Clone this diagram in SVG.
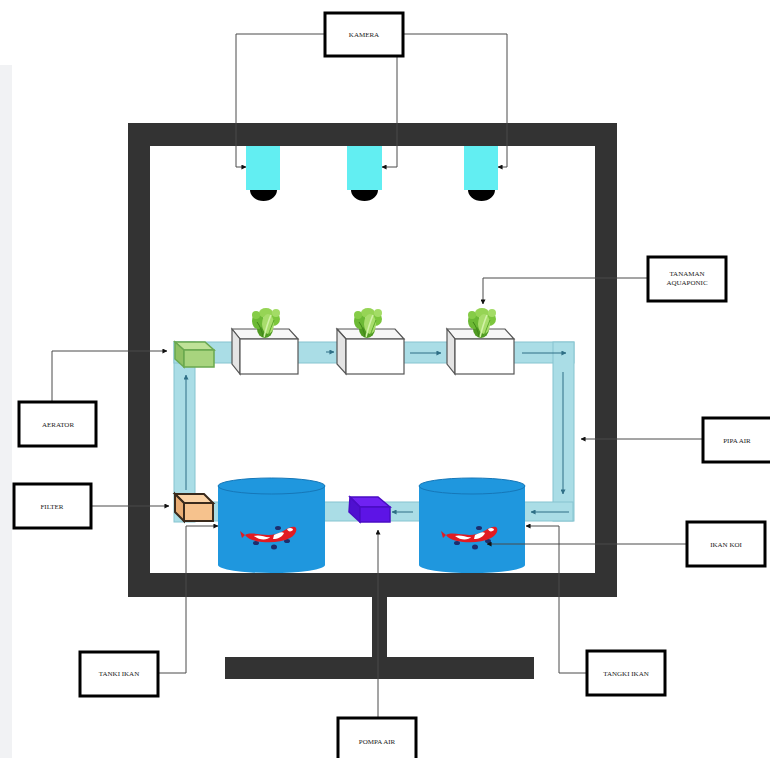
<svg xmlns="http://www.w3.org/2000/svg" width="770" height="758" viewBox="0 0 770 758">
  <defs>
    <style>
      .frame { fill: #333333; }
      .label { fill: #ffffff; stroke: #000000; stroke-width: 3; }
      .txt { font-family: "Liberation Serif", "Times New Roman", serif; font-size: 7px; fill: #222222; text-anchor: middle; }
      .conn { fill: none; stroke: #4a4a4a; stroke-width: 1; }
      .pipe { fill: #aadde6; stroke: #86c4d0; stroke-width: 1; }
      .flow { fill: none; stroke: #2f6f86; stroke-width: 1; }
      .cam { fill: #62eef2; }
      .dome { fill: #000000; }
      .box-front { fill: #ffffff; stroke: #555555; stroke-width: 1.2; }
      .box-side { fill: #e4e4e4; stroke: #555555; stroke-width: 1.2; }
      .box-top { fill: #f7f7f7; stroke: #555555; stroke-width: 1.2; }
      .tank { fill: #1f97de; }
      .tank-top { fill: #1f97de; stroke: #1677b8; stroke-width: 1; }
    </style>
    <marker id="arr" viewBox="0 0 6 6" refX="5.5" refY="3" markerWidth="5" markerHeight="5" markerUnits="userSpaceOnUse" orient="auto">
      <path d="M0,0 L6,3 L0,6 z" fill="#111111"/>
    </marker>
    <marker id="flowArr" viewBox="0 0 6 6" refX="5.5" refY="3" markerWidth="5" markerHeight="5" markerUnits="userSpaceOnUse" orient="auto">
      <path d="M0,0 L6,3 L0,6 z" fill="#2f6f86"/>
    </marker>
    <!-- lettuce head, origin at the centre of the plant -->
    <g id="lettuce">
      <ellipse cx="-1" cy="7" rx="8" ry="9" fill="#4f9a22"/>
      <ellipse cx="-8" cy="-1" rx="6" ry="8" fill="#6cb935"/>
      <ellipse cx="7" cy="-3" rx="7" ry="7" fill="#7cc63d"/>
      <ellipse cx="0" cy="-9" rx="7" ry="5" fill="#96d455"/>
      <ellipse cx="-10" cy="-7" rx="4" ry="4" fill="#86cc48"/>
      <ellipse cx="10" cy="-9" rx="4" ry="4" fill="#a3dc66"/>
      <ellipse cx="2" cy="2" rx="6" ry="10" fill="#a8dd6c"/>
      <path d="M-2,15 C0,7 2,0 5,-7" stroke="#d2f2a8" stroke-width="1.6" fill="none"/>
      <path d="M-9,0 C-6,4 -4,9 -3,15" stroke="#3f8418" stroke-width="1" fill="none"/>
      <path d="M8,-2 C6,3 4,8 2,14" stroke="#5aa82a" stroke-width="1" fill="none"/>
    </g>
    <!-- koi fish -->
    <g id="koi">
      <ellipse cx="-14" cy="10" rx="3" ry="2" fill="#1d2e6e"/>
      <ellipse cx="4" cy="14" rx="3" ry="2.5" fill="#1d2e6e"/>
      <ellipse cx="17" cy="8" rx="3" ry="2" fill="#1d2e6e"/>
      <ellipse cx="8" cy="-5" rx="3" ry="2" fill="#1d2e6e"/>
      <path d="M-25,2 C-18,-2 -6,4 6,1 C14,-1 20,-8 25,-6 C28,-4 26,2 20,5 C12,9 2,10 -8,9 C-16,8 -22,6 -25,2 z" fill="#e11b22"/>
      <path d="M-16,3 C-10,1 -4,5 0,4 C-2,7 -10,8 -16,3 z" fill="#ffffff"/>
      <path d="M4,2 C8,0 12,-2 14,0 C12,4 8,6 3,6 z" fill="#ffffff"/>
      <path d="M17,-4 C20,-6 23,-5 23,-3 C21,-1 18,-1 17,-4 z" fill="#ffffff"/>
      <path d="M-25,2 L-30,-2 L-28,5 z" fill="#e11b22"/>
    </g>
  </defs>

  <rect width="770" height="758" fill="#ffffff"/>
  <rect x="0" y="65" width="12" height="693" fill="#f1f2f4"/>

  <!-- cabinet frame and stand -->
  <g id="frame">
    <rect class="frame" x="128" y="123" width="489" height="23"/>
    <rect class="frame" x="128" y="123" width="22" height="474"/>
    <rect class="frame" x="595" y="123" width="22" height="474"/>
    <rect class="frame" x="128" y="573" width="489" height="24"/>
    <rect class="frame" x="372" y="597" width="15" height="62"/>
    <rect class="frame" x="225" y="657" width="309" height="22"/>
  </g>

  <!-- water pipes -->
  <g id="pipes">
    <rect class="pipe" x="174" y="342" width="21" height="180"/>
    <rect class="pipe" x="174" y="342" width="400" height="21"/>
    <rect class="pipe" x="553" y="342" width="21" height="179"/>
    <rect class="pipe" x="186" y="502" width="387" height="19"/>
    <line class="flow" x1="186" y1="490" x2="186" y2="375" marker-end="url(#flowArr)"/>
    <line class="flow" x1="326" y1="352" x2="334" y2="352" marker-end="url(#flowArr)"/>
    <line class="flow" x1="410" y1="353" x2="441" y2="353" marker-end="url(#flowArr)"/>
    <line class="flow" x1="522" y1="353" x2="566" y2="353" marker-end="url(#flowArr)"/>
    <line class="flow" x1="563" y1="372" x2="563" y2="494" marker-end="url(#flowArr)"/>
    <line class="flow" x1="569" y1="512" x2="531" y2="512" marker-end="url(#flowArr)"/>
    <line class="flow" x1="413" y1="512" x2="392" y2="512" marker-end="url(#flowArr)"/>
  </g>

  <!-- cameras -->
  <g id="camera-1">
    <rect class="cam" x="246" y="146" width="34" height="44"/>
    <path class="dome" d="M250,190 h27 a13.5,11 0 0 1 -27,0 z"/>
  </g>
  <g id="camera-2">
    <rect class="cam" x="347" y="146" width="35" height="44"/>
    <path class="dome" d="M351,190 h27 a13.5,11 0 0 1 -27,0 z"/>
  </g>
  <g id="camera-3">
    <rect class="cam" x="464" y="146" width="34" height="44"/>
    <path class="dome" d="M468,190 h27 a13.5,11 0 0 1 -27,0 z"/>
  </g>

  <!-- aerator -->
  <g id="aerator">
    <polygon points="175,342 205,342 214,350 184,350" fill="#bfe298" stroke="#6aa84f" stroke-width="1.5"/>
    <polygon points="175,342 184,350 184,367 175,359" fill="#8fc063" stroke="#6aa84f" stroke-width="1.5"/>
    <rect x="184" y="350" width="30" height="17" fill="#a8d47e" stroke="#6aa84f" stroke-width="1.5"/>
  </g>

  <!-- grow beds with plants -->
  <g id="grow-bed-1">
    <polygon class="box-top" points="232,329 289,329 298,339 240,339"/>
    <polygon class="box-side" points="232,329 240,339 240,374 232,364"/>
    <rect class="box-front" x="240" y="339" width="58" height="35"/>
    <use href="#lettuce" x="266" y="322"/>
  </g>
  <g id="grow-bed-2">
    <polygon class="box-top" points="337,329 395,329 404,339 346,339"/>
    <polygon class="box-side" points="337,329 346,339 346,374 337,364"/>
    <rect class="box-front" x="346" y="339" width="58" height="35"/>
    <use href="#lettuce" x="368" y="322"/>
  </g>
  <g id="grow-bed-3">
    <polygon class="box-top" points="447,329 505,329 514,339 455,339"/>
    <polygon class="box-side" points="447,329 455,339 455,374 447,364"/>
    <rect class="box-front" x="455" y="339" width="59" height="35"/>
    <use href="#lettuce" x="482" y="322"/>
  </g>

  <!-- filter -->
  <g id="filter">
    <polygon points="175,494 204,494 213,503 184,503" fill="#fbd3a6" stroke="#3a2a1c" stroke-width="2"/>
    <polygon points="175,494 184,503 184,521 175,512" fill="#e9ad74" stroke="#3a2a1c" stroke-width="2"/>
    <rect x="184" y="503" width="29" height="18" fill="#f6c28d" stroke="#3a2a1c" stroke-width="2"/>
  </g>

  <!-- water pump -->
  <g id="pump">
    <polygon points="350,497 378,497 390,507 360,507" fill="#6f22f2" stroke="#4a0cc4" stroke-width="1.5"/>
    <polygon points="350,497 360,507 360,522 349,512" fill="#4f10d0" stroke="#4a0cc4" stroke-width="1.5"/>
    <rect x="360" y="507" width="30" height="15" fill="#5d14e6" stroke="#4a0cc4" stroke-width="1.5"/>
  </g>

  <!-- fish tanks -->
  <g id="tank-1">
    <path class="tank" d="M218,486 V565 A53.5,8 0 0 0 325,565 V486 z"/>
    <ellipse class="tank-top" cx="271.5" cy="486" rx="53.5" ry="8"/>
    <use href="#koi" x="270" y="533"/>
  </g>
  <g id="tank-2">
    <path class="tank" d="M419,486 V565 A53,8 0 0 0 525,565 V486 z"/>
    <ellipse class="tank-top" cx="472" cy="486" rx="53" ry="8"/>
    <use href="#koi" x="471" y="533"/>
  </g>

  <!-- labels and leader lines -->
  <g id="connectors">
    <polyline class="conn" points="324,34 236,34 236,167 246,167" marker-end="url(#arr)"/>
    <polyline class="conn" points="397,57 397,167 382,167" marker-end="url(#arr)"/>
    <polyline class="conn" points="404,34 507,34 507,167 498,167" marker-end="url(#arr)"/>
    <polyline class="conn" points="647,278 483,278 483,304" marker-end="url(#arr)"/>
    <polyline class="conn" points="52,401 52,351 167,351" marker-end="url(#arr)"/>
    <polyline class="conn" points="702,439 581,439" marker-end="url(#arr)"/>
    <polyline class="conn" points="92,506 169,506" marker-end="url(#arr)"/>
    <polyline class="conn" points="159,673 186,673 186,526 218,526" marker-end="url(#arr)"/>
    <polyline class="conn" points="686,544 487,544" marker-end="url(#arr)"/>
    <polyline class="conn" points="586,673 559,673 559,526 526,526" marker-end="url(#arr)"/>
    <polyline class="conn" points="378,717 378,530" marker-end="url(#arr)"/>
  </g>

  <g id="label-kamera">
    <rect class="label" x="325" y="13" width="78" height="43"/>
    <text class="txt" x="364" y="37">KAMERA</text>
  </g>
  <g id="label-tanaman">
    <rect class="label" x="648" y="257" width="78" height="44"/>
    <text class="txt" x="687" y="276">TANAMAN</text>
    <text class="txt" x="687" y="285">AQUAPONIC</text>
  </g>
  <g id="label-aerator">
    <rect class="label" x="19" y="402" width="77" height="44"/>
    <text class="txt" x="58" y="427">AERATOR</text>
  </g>
  <g id="label-pipa">
    <rect class="label" x="703" y="418" width="70" height="44"/>
    <text class="txt" x="737" y="443">PIPA AIR</text>
  </g>
  <g id="label-filter">
    <rect class="label" x="14" y="484" width="77" height="44"/>
    <text class="txt" x="52" y="509">FILTER</text>
  </g>
  <g id="label-ikan-koi">
    <rect class="label" x="687" y="522" width="78" height="44"/>
    <text class="txt" x="726" y="547">IKAN KOI</text>
  </g>
  <g id="label-tanki-ikan">
    <rect class="label" x="80" y="652" width="78" height="44"/>
    <text class="txt" x="119" y="676">TANKI IKAN</text>
  </g>
  <g id="label-tangki-ikan">
    <rect class="label" x="587" y="651" width="78" height="44"/>
    <text class="txt" x="626" y="676">TANGKI IKAN</text>
  </g>
  <g id="label-pompa">
    <rect class="label" x="338" y="718" width="78" height="48"/>
    <text class="txt" x="377" y="744">POMPA AIR</text>
  </g>
</svg>
